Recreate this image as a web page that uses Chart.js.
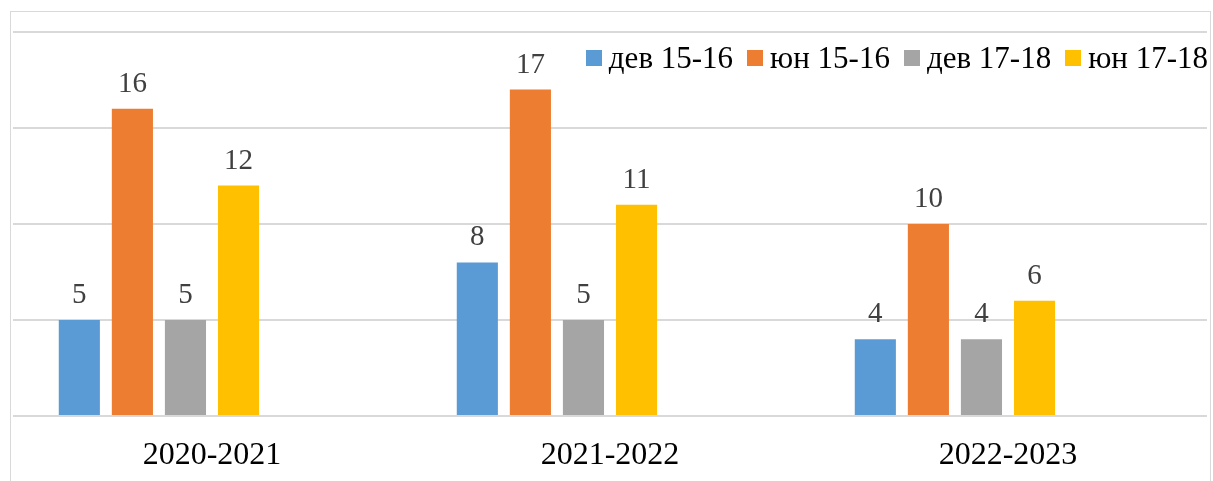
<!DOCTYPE html>
<html>
<head>
<meta charset="utf-8">
<script src="https://cdn.jsdelivr.net/npm/chart.js@4"></script>
<style>
  html, body { margin: 0; padding: 0; background: #fff; overflow: hidden; }
  #wrap { position: relative; width: 1213px; height: 481px; }
  #frame {
    position: absolute; left: 10px; top: 11px; width: 1201px; height: 500px;
    border: 1px solid #d9d9d9; border-bottom: none; box-sizing: border-box;
  }
  #legend {
    position: absolute; top: 40px; right: 5px; display: flex; align-items: center;
    font-family: 'Liberation Serif', 'Times New Roman', serif; font-size: 31px; color: #000;
    white-space: nowrap;
  }
  #legend .item { display: flex; align-items: center; margin-left: 14px; }
  #legend .box { width: 16px; height: 16px; margin-right: 7px; }
</style>
</head>
<body>
<div id="wrap">
  <div id="frame"></div>
  <canvas id="chart" width="1213" height="481"></canvas>
  <div id="legend"></div>
</div>
<script>
// учебные годы
const categories = ['2020-2021', '2021-2022', '2022-2023'];

// серии
const seriesNames = ['дев 15-16', 'юн 15-16', 'дев 17-18', 'юн 17-18'];
const dev1516 = [5, 8, 4];
const yun1516 = [16, 17, 10];
const dev1718 = [5, 5, 4];
const yun1718 = [12, 11, 6];
const seriesColors = ['#5B9BD5', '#ED7D31', '#A5A5A5', '#FFC000'];

// шкала Y (подписи скрыты)
const yMin = 0;
const yMax = 20;
const yStep = 5;

const seriesValues = [dev1516, yun1516, dev1718, yun1718];

const datasets = seriesNames.map((name, i) => ({
  label: name,
  data: seriesValues[i],
  backgroundColor: seriesColors[i],
  borderWidth: 0,
}));
// два пустых слота в группе, как в исходной диаграмме
datasets.push({ label: '', data: [null, null, null], backgroundColor: 'transparent' });
datasets.push({ label: '', data: [null, null, null], backgroundColor: 'transparent' });

// подписи значений над столбцами
const valueLabelPlugin = {
  id: 'valueLabelPlugin',
  afterDatasetsDraw: (chart) => {
    const { ctx } = chart;
    ctx.save();
    ctx.fillStyle = '#404040';
    ctx.font = "29px 'Liberation Serif', 'Times New Roman', serif";
    ctx.textAlign = 'center';
    ctx.textBaseline = 'alphabetic';
    chart.data.datasets.forEach((ds, di) => {
      if (!ds.label) return;
      const meta = chart.getDatasetMeta(di);
      meta.data.forEach((bar, idx) => {
        const v = ds.data[idx];
        if (v === null || v === undefined) return;
        ctx.fillText(String(v), bar.x, bar.y - 17);
      });
    });
    ctx.restore();
  },
};

const chart = new Chart(document.getElementById('chart').getContext('2d'), {
  type: 'bar',
  data: { labels: categories, datasets: datasets },
  options: {
    responsive: false,
    animation: false,
    categoryPercentage: 0.8,
    barPercentage: 0.775,
    layout: { padding: { left: 13, right: 6, top: 32, bottom: 0 } },
    scales: {
      x: {
        grid: { display: false, drawTicks: false },
        border: { display: false },
        ticks: {
          color: '#000',
          padding: 20,
          font: { family: "'Liberation Serif', 'Times New Roman', serif", size: 32 },
        },
        afterFit: (scale) => { scale.height = 65; },
      },
      y: {
        min: yMin,
        max: yMax,
        ticks: { display: false, stepSize: yStep },
        grid: { color: '#d9d9d9', lineWidth: 2, drawTicks: false },
        border: { display: false },
      },
    },
    plugins: {
      legend: { display: false },
      tooltip: { enabled: false },
    },
  },
  plugins: [valueLabelPlugin],
});

// легенда (внутри области построения, справа сверху)
const legendEl = document.getElementById('legend');
seriesNames.forEach((name, i) => {
  const item = document.createElement('div');
  item.className = 'item';
  const box = document.createElement('span');
  box.className = 'box';
  box.style.background = seriesColors[i];
  const txt = document.createElement('span');
  txt.textContent = name;
  item.appendChild(box);
  item.appendChild(txt);
  legendEl.appendChild(item);
});
</script>
</body>
</html>
